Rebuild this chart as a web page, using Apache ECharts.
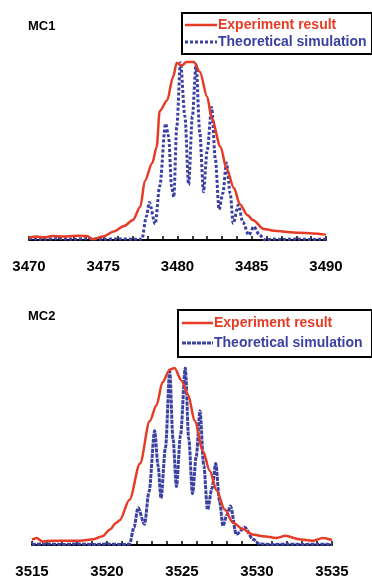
<!DOCTYPE html>
<html>
<head>
<meta charset="utf-8">
<script src="https://cdn.jsdelivr.net/npm/echarts@6/dist/echarts.min.js"></script>
<style>
  html, body { margin: 0; padding: 0; background: #fff; }
  #chart { width: 372px; height: 579px; }
</style>
</head>
<body>
<div id="chart"></div>
<script>
// MC1 - experiment (red) and theoretical simulation (blue)
const mc1ExpX = [3470, 3470.5, 3471, 3471.6, 3472.3, 3473.2, 3473.9, 3474.3, 3475, 3475.7, 3476.4, 3477, 3477.5, 3477.8, 3478.3, 3478.6, 3478.8, 3479.3, 3479.7, 3479.95, 3480.3, 3480.6, 3481.1, 3481.5, 3482, 3482.3, 3482.9, 3483.3, 3483.8, 3484.2, 3484.7, 3485.1, 3485.8, 3486.5, 3487.4, 3488.2, 3489.1, 3490];
const mc1ExpY = [0.013, 0.019, 0.015, 0.022, 0.019, 0.024, 0.022, 0.004, 0.019, 0.047, 0.078, 0.112, 0.186, 0.33, 0.43, 0.52, 0.72, 0.78, 0.91, 0.99, 0.975, 0.995, 0.995, 0.94, 0.80, 0.68, 0.52, 0.40, 0.29, 0.20, 0.14, 0.11, 0.062, 0.052, 0.045, 0.04, 0.037, 0.03];
const mc1SimX = [3470, 3471, 3472, 3473, 3474, 3475, 3476, 3477, 3477.6, 3477.9, 3478.1, 3478.5, 3478.8, 3479.2, 3479.4, 3479.6, 3479.75, 3479.95, 3480.2, 3480.5, 3480.75, 3481.0, 3481.25, 3481.5, 3481.75, 3482.0, 3482.3, 3482.55, 3482.8, 3483.05, 3483.3, 3483.55, 3483.75, 3484.1, 3484.4, 3484.8, 3485.15, 3485.5, 3485.9, 3486.5, 3487, 3488, 3489, 3490];
const mc1SimY = [0.008, 0.004, 0.008, 0.004, 0.008, 0.004, 0.006, 0.004, 0.005, 0.13, 0.21, 0.09, 0.30, 0.65, 0.58, 0.30, 0.24, 0.63, 0.99, 0.69, 0.31, 0.69, 0.98, 0.60, 0.27, 0.50, 0.74, 0.45, 0.17, 0.26, 0.43, 0.26, 0.093, 0.195, 0.10, 0.028, 0.075, 0.03, 0.0, 0.005, 0.003, 0.005, 0.003, 0.005];

// MC2
const mc2ExpX = [3515, 3515.3, 3515.7, 3516.4, 3517.3, 3518.2, 3519.1, 3519.7, 3520.2, 3520.6, 3520.85, 3521.5, 3522.2, 3522.85, 3523.3, 3523.7, 3524.18, 3524.5, 3524.96, 3525.4, 3525.85, 3526.4, 3526.85, 3527.3, 3527.85, 3528.4, 3529.05, 3529.7, 3530.4, 3531.3, 3531.9, 3532.8, 3533.7, 3534.4, 3535];
const mc2ExpY = [0.03, 0.04, 0.02, 0.024, 0.024, 0.024, 0.033, 0.05, 0.088, 0.125, 0.14, 0.256, 0.46, 0.70, 0.79, 0.92, 0.99, 1.0, 0.93, 0.85, 0.70, 0.53, 0.42, 0.31, 0.2, 0.126, 0.09, 0.06, 0.05, 0.04, 0.052, 0.033, 0.024, 0.04, 0.028];
const mc2SimX = [3515, 3516, 3517, 3518, 3519, 3520, 3521, 3521.5, 3521.8, 3522.07, 3522.5, 3522.8, 3523.18, 3523.4, 3523.6, 3523.9, 3524.18, 3524.4, 3524.63, 3524.9, 3525.22, 3525.45, 3525.7, 3525.95, 3526.2, 3526.45, 3526.7, 3527.0, 3527.25, 3527.5, 3527.73, 3528.0, 3528.23, 3528.62, 3529.18, 3529.73, 3530.18, 3531, 3532, 3533, 3534, 3535];
const mc2SimY = [0.004, 0.006, 0.003, 0.006, 0.003, 0.005, 0.003, 0.005, 0.1, 0.21, 0.117, 0.3, 0.645, 0.45, 0.265, 0.55, 0.98, 0.6, 0.33, 0.62, 1.0, 0.6, 0.29, 0.5, 0.757, 0.45, 0.2, 0.32, 0.46, 0.25, 0.108, 0.17, 0.22, 0.06, 0.1, 0.033, 0.005, 0.003, 0.005, 0.003, 0.005, 0.003];

const panelTitles = ['MC1', 'MC2'];
const seriesNames = ['Experiment result', 'Theoretical simulation'];

const RED = '#e63b25';
const BLUE = '#3a41a0';
const FONT = 'Arial, "Liberation Sans", sans-serif';

const zip = (xs, ys) => xs.map((x, i) => [x, ys[i]]);

const chart = echarts.init(document.getElementById('chart'));

const xAxisBase = (idx, min, max) => ({
  type: 'value',
  gridIndex: idx,
  min: min,
  max: max,
  interval: 1,
  splitLine: { show: false },
  axisLine: { lineStyle: { color: '#000', width: 2 } },
  axisTick: { inside: true, length: 4, lineStyle: { color: '#000', width: 1.5 } },
  axisLabel: {
    margin: 19,
    color: '#000',
    fontWeight: 'bold',
    fontSize: 15,
    fontFamily: FONT,
    formatter: v => (v % 5 === 0 ? String(v) : '')
  }
});

// hand-drawn legend box: a framed rectangle with two line samples and labels
const legendBox = (x, y, w, h, row1, row2, lineX1, lineX2, simDash) => ({
  type: 'group',
  children: [
    { type: 'rect', shape: { x: x + 1, y: y + 1, width: w, height: h }, style: { fill: '#000' } },
    { type: 'rect', shape: { x: x, y: y, width: w, height: h }, style: { fill: '#fff', stroke: '#000', lineWidth: 2 } },
    { type: 'line', shape: { x1: lineX1, y1: row1, x2: lineX2, y2: row1 }, style: { stroke: RED, lineWidth: 2.5 } },
    { type: 'line', shape: { x1: lineX1, y1: row2, x2: lineX2, y2: row2 }, style: { stroke: BLUE, lineWidth: 3, lineDash: simDash } },
    { type: 'text', style: { text: seriesNames[0], x: lineX2 + 1, y: row1, verticalAlign: 'middle', fill: RED, font: 'bold 14px ' + FONT } },
    { type: 'text', style: { text: seriesNames[1], x: lineX2 + 1, y: row2, verticalAlign: 'middle', fill: BLUE, font: 'bold 14px ' + FONT } }
  ]
});

const option = {
  animation: false,
  title: [
    { text: panelTitles[0], left: 23, top: 15, textStyle: { fontSize: 13, fontWeight: 'bold', color: '#000', fontFamily: FONT } },
    { text: panelTitles[1], left: 23, top: 305, textStyle: { fontSize: 13, fontWeight: 'bold', color: '#000', fontFamily: FONT } }
  ],
  graphic: [
    legendBox(182, 13, 190, 41, 25, 42, 185, 217, [3, 2]),
    legendBox(178, 310, 194, 47, 323, 343, 182, 213, [4, 1])
  ],
  grid: [
    { left: 29, width: 297, top: 61, height: 179 },
    { left: 32, width: 300, top: 368, height: 180 }
  ],
  xAxis: [
    xAxisBase(0, 3470, 3490),
    xAxisBase(1, 3515, 3535)
  ],
  yAxis: [
    { type: 'value', gridIndex: 0, min: 0, max: 1, show: false },
    { type: 'value', gridIndex: 1, min: 0, max: 1, show: false }
  ],
  series: [
    {
      name: seriesNames[1], type: 'line', xAxisIndex: 0, yAxisIndex: 0,
      data: zip(mc1SimX, mc1SimY), showSymbol: false, symbol: 'none', smooth: 0.3, smoothMonotone: 'x',
      lineStyle: { color: BLUE, width: 3, type: [3, 2] }, itemStyle: { color: BLUE }
    },
    {
      name: seriesNames[0], type: 'line', xAxisIndex: 0, yAxisIndex: 0,
      data: zip(mc1ExpX, mc1ExpY), showSymbol: false, symbol: 'none', smooth: 0.3, smoothMonotone: 'x',
      lineStyle: { color: RED, width: 2.5 }, itemStyle: { color: RED }
    },
    {
      name: seriesNames[1], type: 'line', xAxisIndex: 1, yAxisIndex: 1,
      data: zip(mc2SimX, mc2SimY), showSymbol: false, symbol: 'none', smooth: 0.3, smoothMonotone: 'x',
      lineStyle: { color: BLUE, width: 3, type: [4, 1] }, itemStyle: { color: BLUE }
    },
    {
      name: seriesNames[0], type: 'line', xAxisIndex: 1, yAxisIndex: 1,
      data: zip(mc2ExpX, mc2ExpY), showSymbol: false, symbol: 'none', smooth: 0.3, smoothMonotone: 'x',
      lineStyle: { color: RED, width: 2.5 }, itemStyle: { color: RED }
    }
  ]
};

chart.setOption(option);
</script>
</body>
</html>
